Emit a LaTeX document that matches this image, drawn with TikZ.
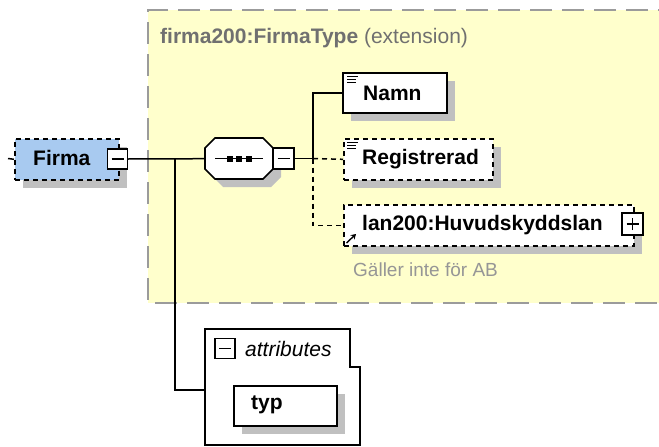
\documentclass[tikz,border=0pt]{standalone}
\usepackage{fontspec}
\setmainfont{Liberation Sans}
\usetikzlibrary{shadows,arrows.meta}
\definecolor{yel}{RGB}{255,255,204}
\definecolor{blu}{RGB}{168,202,240}
\definecolor{shd}{RGB}{192,192,192}
\definecolor{bord}{RGB}{155,155,155}
\definecolor{ttl}{RGB}{112,112,112}
\definecolor{notec}{RGB}{150,150,150}
\begin{document}
\begin{tikzpicture}[x=1pt,y=-1pt,
  shad/.style={drop shadow={shadow xshift=8pt,shadow yshift=-8pt,fill=shd,opacity=1}},
  elem/.style={draw=black, line width=1.6pt, fill=white, inner sep=0pt, anchor=north west, shad},
  optel/.style={elem, dash pattern=on 5pt off 4pt},
  pm/.style={draw=black, line width=1.3pt, fill=white, minimum width=20pt, minimum height=20pt, inner sep=0pt},
  conn/.style={line width=1.5pt},
  dconn/.style={conn, dash pattern=on 5pt off 4pt},
  lbl/.style={font=\fontsize{21}{24}\selectfont\bfseries, inner sep=0pt, anchor=west},
  icon/.style={line width=1pt}]
\useasboundingbox (0,0) rectangle (659,447);
\clip (0,0) rectangle (659,447);
% extension region
\fill[yel] (148,10) rectangle (680,303);
\draw[bord, line width=2pt, dash pattern=on 22pt off 10pt] (680,10) -- (148,10) -- (148,303) -- (680,303);
\node[anchor=west, text=ttl, inner sep=0pt, font=\fontsize{21}{24}\selectfont] (title) at (160,38) {\textbf{firma200:FirmaType} (extension)};

% Firma element
\node[optel, fill=blu, minimum width=104pt, minimum height=41pt] (firma) at (14,138) {};
\node[lbl] (firmat) at (33,158) {Firma};
\coordinate (ftick) at (8,158.5);
\draw[conn] (ftick) -- (firma.west);
\node[pm] (fminus) at (117.5,159) {};
\draw[line width=1.3pt] ([xshift=-6pt]fminus.center) -- ([xshift=6pt]fminus.center);

% sequence compositor
\node[minimum width=68pt, minimum height=41pt, inner sep=0pt, anchor=north west] (seq) at (205,138) {};
\fill[shd] (213,156) -- (223,146) -- (271,146) -- (281,156) -- (281,177) -- (271,187) -- (223,187) -- (213,177) -- cycle;
\draw[line width=1.6pt, fill=white] (205,148) -- (215,138) -- (263,138) -- (273,148) -- (273,169) -- (263,179) -- (215,179) -- (205,169) -- cycle;
\draw[conn] ([xshift=10pt]seq.west) -- ([xshift=-10pt]seq.east);
\foreach \dx in {-9.5,0,9.5}
  \fill ([xshift=\dx pt-3.2pt,yshift=-3.2pt]seq.center) rectangle ([xshift=\dx pt+3.2pt,yshift=3.2pt]seq.center);
\node[pm, minimum width=21pt, minimum height=21pt] (sminus) at (283.5,158.5) {};
\draw[line width=1.3pt] ([xshift=-6pt]sminus.center) -- ([xshift=6pt]sminus.center);

% children
\node[elem, minimum width=104pt, minimum height=40pt] (namn) at (342,72) {};
\node[lbl] (namnt) at (363,93) {Namn};
\node[optel, minimum width=149pt, minimum height=41pt] (reg) at (343,138) {};
\node[lbl] (regt) at (362,159) {Registrerad};
\node[optel, minimum width=290pt, minimum height=41pt] (huv) at (343,204) {};
\node[lbl] (huvt) at (362,225) {lan200:Huvudskyddslan};
\node[pm, minimum width=21pt, minimum height=22pt] (hplus) at (632.5,224) {};
\draw[line width=1.3pt] ([xshift=-6pt]hplus.center) -- ([xshift=6pt]hplus.center);
\draw[line width=1.3pt] ([yshift=-6pt]hplus.center) -- ([yshift=6pt]hplus.center);
\draw[-{Stealth[length=5pt,width=6pt]}, line width=1.4pt] (346.5,243) -- (356,234);
\node[anchor=west, text=notec, inner sep=0pt, font=\fontsize{19}{22}\selectfont] (gnote) at (353,270) {Gäller inte för AB};

% text icons
\foreach \n/\yy in {namn/76,reg/142}{
  \draw[icon] (347,\yy) -- (358,\yy);
  \draw[icon] (347,\yy+3) -- (356,\yy+3);
  \draw[icon] (347,\yy+6) -- (356,\yy+6);
}

% connectors
\coordinate (j1) at (175,158.5);
\coordinate (j2) at (313,158.5);
\draw[conn] (fminus.east) -- (seq.west);
\draw[conn] (sminus.east) -- (j2);
\draw[conn] (j2) |- (namn.west);
\draw[dconn] (j2) -- (reg.west);
\draw[dconn] (j2) |- (huv.west);

% attributes
\draw[line width=1.5pt, fill=white] (205,329) -- (350,329) -- (350,367) -- (360,367) -- (360,445) -- (205,445) -- cycle;
\coordinate (attrin) at (205,390);
\draw[conn] (j1) |- (attrin);
\node[pm] (aminus) at (225,348.5) {};
\draw[line width=1.3pt] ([xshift=-6pt]aminus.center) -- ([xshift=6pt]aminus.center);
\node[anchor=west, inner sep=0pt, font=\fontsize{21}{24}\selectfont\itshape] (attrt) at (245,349) {attributes};
\node[elem, minimum width=103pt, minimum height=40pt] (typ) at (233,385) {};
\node[lbl] (typt) at (251,405) {typ};
\end{tikzpicture}
\end{document}
